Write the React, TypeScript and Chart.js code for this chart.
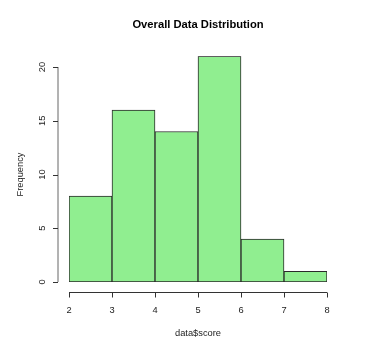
import React, { useEffect, useRef } from "react";
import { Chart, registerables } from "chart.js";

Chart.register(...registerables);

const binStarts = [2, 3, 4, 5, 6, 7];
const binWidth = 1;
const frequencies = [8, 16, 14, 21, 4, 1];
const xTicks = [2, 3, 4, 5, 6, 7, 8];
const yTicks = [0, 5, 10, 15, 20];
const titleText = "Overall Data Distribution";
const xTitle = "data$score";
const yTitle = "Frequency";

const FONT = "Liberation Sans, Arial, Helvetica, sans-serif";

const rAxesPlugin = {
  id: "rAxes",
  afterDraw(chart: any) {
    const ctx = chart.ctx;
    const xs = chart.scales.x;
    const ys = chart.scales.y;
    const area = chart.chartArea;
    ctx.save();
    ctx.strokeStyle = "#333";
    ctx.fillStyle = "#222";
    ctx.lineWidth = 1;

    // x axis (offset below plot like R)
    const xAxisY = Math.round(ys.getPixelForValue(0)) + 10.5;
    ctx.beginPath();
    ctx.moveTo(xs.getPixelForValue(xTicks[0]), xAxisY);
    ctx.lineTo(xs.getPixelForValue(xTicks[xTicks.length - 1]), xAxisY);
    for (const t of xTicks) {
      const px = Math.round(xs.getPixelForValue(t)) + 0.5;
      ctx.moveTo(px, xAxisY);
      ctx.lineTo(px, xAxisY + 5);
    }
    ctx.stroke();
    ctx.font = `9.3px ${FONT}`;
    ctx.textAlign = "center";
    ctx.textBaseline = "middle";
    for (const t of xTicks) {
      ctx.fillText(String(t), xs.getPixelForValue(t), xAxisY + 18);
    }

    // y axis
    const yAxisX = Math.round(area.left) - 11;
    ctx.strokeStyle = "#666";
    ctx.beginPath();
    ctx.moveTo(yAxisX, ys.getPixelForValue(yTicks[0]));
    ctx.lineTo(yAxisX, ys.getPixelForValue(yTicks[yTicks.length - 1]));
    ctx.stroke();
    ctx.strokeStyle = "#333";
    ctx.beginPath();
    for (const t of yTicks) {
      const py = Math.round(ys.getPixelForValue(t)) + 0.5;
      ctx.moveTo(yAxisX, py);
      ctx.lineTo(yAxisX - 5, py);
    }
    ctx.stroke();
    for (const t of yTicks) {
      ctx.save();
      ctx.translate(yAxisX - 16, ys.getPixelForValue(t));
      ctx.rotate(-Math.PI / 2);
      ctx.fillText(String(t), 0, 0);
      ctx.restore();
    }

    // axis titles
    ctx.fillText(xTitle, (area.left + area.right) / 2, 333);
    ctx.save();
    ctx.translate(20, (ys.getPixelForValue(0) + ys.getPixelForValue(20)) / 2);
    ctx.rotate(-Math.PI / 2);
    ctx.fillText(yTitle, 0, 0);
    ctx.restore();

    // main title
    ctx.fillStyle = "#000";
    ctx.font = `bold 11.2px ${FONT}`;
    ctx.fillText(titleText, (area.left + area.right) / 2, 25);
    ctx.restore();
  },
};

export default function App() {
  const canvasRef = useRef<HTMLCanvasElement | null>(null);

  useEffect(() => {
    if (!canvasRef.current) return;
    const chart = new Chart(canvasRef.current, {
      type: "bar",
      data: {
        datasets: [
          {
            data: binStarts.map((s, i) => ({ x: s + binWidth / 2, y: frequencies[i] })),
            backgroundColor: "#90EE90",
            borderColor: "#2a2a2a",
            borderWidth: 1,
            barPercentage: 1,
            categoryPercentage: 1,
            borderSkipped: false,
          },
        ],
      },
      options: {
        animation: false,
        responsive: false,
        maintainAspectRatio: false,
        layout: { padding: { left: 69, right: 47, top: 56.25, bottom: 75 } },
        plugins: { legend: { display: false }, title: { display: false }, tooltip: { enabled: false } },
        scales: {
          x: { type: "linear", min: 2, max: 8, display: false, offset: false },
          y: { type: "linear", min: 0, max: 21, display: false },
        },
      },
      plugins: [rAxesPlugin],
    });
    return () => chart.destroy();
  }, []);

  return (
    <div style={{ position: "fixed", left: 0, top: 0, width: 374, height: 357, background: "#fff" }}>
      <canvas ref={canvasRef} width={374} height={357} style={{ width: 374, height: 357, display: "block" }} />
    </div>
  );
}
